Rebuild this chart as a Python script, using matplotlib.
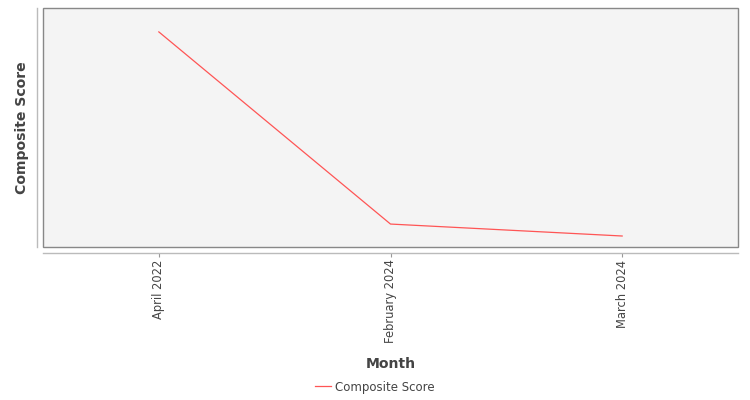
import matplotlib
matplotlib.use("Agg")
import matplotlib.pyplot as plt

# ---- Data ----
months = ["April 2022", "February 2024", "March 2024"]
composite_score = [0.90, 0.096, 0.046]

TEXT = "#444444"
LINE = "#ff5555"

fig = plt.figure(figsize=(7.5, 4.0), dpi=100)
ax = fig.add_axes([43 / 750, 153 / 400, 695 / 750, 239 / 400])

x = list(range(len(months)))
ax.plot(x, composite_score, color=LINE, linewidth=0.9, label="Composite Score")

ax.set_xlim(-0.5, len(months) - 0.5)
ax.set_ylim(0, 1)

# plot background + border
ax.set_facecolor("#f4f4f4")
ax.patch.set_edgecolor("#888888")
ax.patch.set_linewidth(1.0)

# axis lines offset from the plot area
for side in ("top", "right"):
    ax.spines[side].set_visible(False)
for side in ("left", "bottom"):
    ax.spines[side].set_position(("outward", 4))
    ax.spines[side].set_color("#bbbbbb")
    ax.spines[side].set_linewidth(1.0)

ax.set_xticks(x)
ax.set_xticklabels(months, rotation=90, fontsize=8.3, color=TEXT)
ax.tick_params(axis="x", length=3, width=0.8, color="#999999", pad=2)
ax.set_yticks([])

ax.set_xlabel("Month", fontsize=10.1, fontweight="bold", color=TEXT, labelpad=10)
ax.set_ylabel("Composite Score", fontsize=10.1, fontweight="bold", color=TEXT, labelpad=6)

fig.legend(loc="center", bbox_to_anchor=(0.5, 1 - 387 / 400), frameon=False,
           fontsize=8.5, handlelength=1.3, handletextpad=0.35, labelcolor=TEXT)

fig.savefig("out.png", dpi=100)
